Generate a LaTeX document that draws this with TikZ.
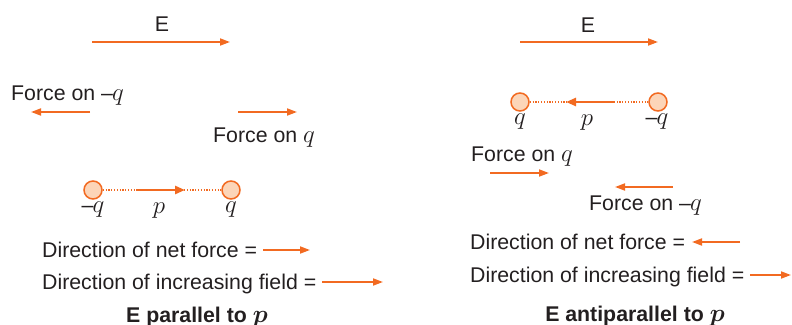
\documentclass[tikz,border=0pt]{standalone}
\usepackage{fontspec}
\setmainfont{Liberation Sans}
\usetikzlibrary{arrows.meta}
\definecolor{orng}{HTML}{F26A21}
\definecolor{peach}{HTML}{FCD5B8}
\definecolor{ink}{HTML}{231F20}
\newcommand{\mth}[1]{{\fontsize{26}{28}\selectfont$#1$}}
\newcommand{\mq}{\textendash\kern-1pt\mth{q}}
\begin{document}
\begin{tikzpicture}[x=1pt,y=-1pt,
  txt/.style={font=\fontsize{21.3}{24}\selectfont, text=ink, inner sep=0pt},
  ttl/.style={font=\fontsize{21.3}{24}\selectfont\bfseries\boldmath, text=ink, inner sep=0pt},
  farrow/.style={draw=orng, line width=1.8pt, -{Triangle[length=10pt,width=7pt]}},
  charge/.style={circle, draw=orng, fill=peach, line width=1.5pt, minimum size=18pt, inner sep=0pt},
  dots/.style={draw=orng, line width=1.5pt, dash pattern=on 1.2pt off 1.6pt},
  parrow/.style={draw=orng, line width=2.8pt, -{Triangle[length=10pt,width=8pt]}},
]
\useasboundingbox (0,0) rectangle (792,324);

% ---------------- left panel ----------------
\node[txt, anchor=base] (lE) at (162,31) {E};
\coordinate (lEa) at (92,42); \coordinate (lEb) at (230,42);
\draw[farrow] (lEa) -- (lEb);

\node[txt, anchor=base west] (lfmq) at (11,100) {Force on \mq};
\coordinate (lfa1) at (90,112); \coordinate (lfb1) at (31,112);
\draw[farrow] (lfa1) -- (lfb1);
\coordinate (lfa2) at (238,112); \coordinate (lfb2) at (297,112);
\draw[farrow] (lfa2) -- (lfb2);
\node[txt, anchor=base west] (lfq) at (213,142) {Force on \mth{q}};

\node[charge] (lc1) at (93,190) {};
\node[charge] (lc2) at (231,190) {};
\draw[dots] (lc1.east) -- (lc2.west);
\coordinate (lpa) at (137,190); \coordinate (lpb) at (185,190);
\draw[parrow] (lpa) -- (lpb);
\node[txt] (lq1) at (93,210) {\mq};
\node[txt] (lp) at (159,211) {\mth{p}};
\node[txt] (lq2) at (231,210) {\mth{q}};

\node[txt, anchor=base west] (lnet) at (42,257) {Direction of net force =};
\coordinate (lna) at (263,250); \coordinate (lnb) at (310,250);
\draw[farrow] (lna) -- (lnb);
\node[txt, anchor=base west] (linc) at (42,289) {Direction of increasing field =};
\coordinate (lia) at (322,282); \coordinate (lib) at (383,282);
\draw[farrow] (lia) -- (lib);
\node[ttl, anchor=base] (ltitle) at (197,322) {E parallel to \mth{p}};

% ---------------- right panel ----------------
\node[txt, anchor=base] (rE) at (588,32) {E};
\coordinate (rEa) at (520,42); \coordinate (rEb) at (658,42);
\draw[farrow] (rEa) -- (rEb);

\node[charge] (rc1) at (520,102) {};
\node[charge] (rc2) at (658,102) {};
\draw[dots] (rc1.east) -- (rc2.west);
\coordinate (rpa) at (614,102); \coordinate (rpb) at (566,102);
\draw[parrow] (rpa) -- (rpb);
\node[txt] (rq1) at (520,122) {\mth{q}};
\node[txt] (rp) at (587,123) {\mth{p}};
\node[txt] (rq2) at (657,122) {\mq};

\node[txt, anchor=base west] (rfq) at (471,161) {Force on \mth{q}};
\coordinate (rfa1) at (490,173); \coordinate (rfb1) at (549,173);
\draw[farrow] (rfa1) -- (rfb1);
\coordinate (rfa2) at (673,187); \coordinate (rfb2) at (615,187);
\draw[farrow] (rfa2) -- (rfb2);
\node[txt, anchor=base west] (rfmq) at (589,210) {Force on \mq};

\node[txt, anchor=base west] (rnet) at (470,249) {Direction of net force =};
\coordinate (rna) at (740,242); \coordinate (rnb) at (692,242);
\draw[farrow] (rna) -- (rnb);
\node[txt, anchor=base west] (rinc) at (470,282) {Direction of increasing field =};
\coordinate (ria) at (750,275); \coordinate (rib) at (791,275);
\draw[farrow] (ria) -- (rib);
\node[ttl, anchor=base] (rtitle) at (635,321) {E antiparallel to \mth{p}};
\end{tikzpicture}
\end{document}
